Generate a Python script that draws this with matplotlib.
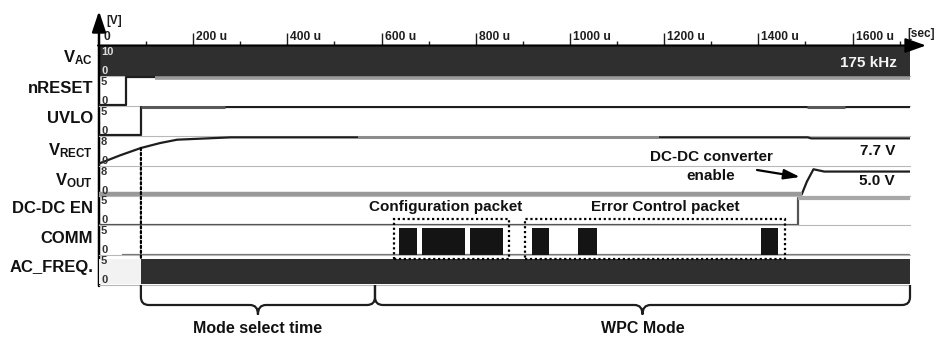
import numpy as np
import matplotlib
matplotlib.use('Agg')
import matplotlib.pyplot as plt
from matplotlib.patches import Rectangle, ConnectionPatch, PathPatch
from matplotlib.path import Path

plt.rcParams['font.family'] = ['Liberation Sans', 'DejaVu Sans']
plt.rcParams['font.weight'] = 'bold'
plt.rcParams['mathtext.fontset'] = 'custom'
plt.rcParams['mathtext.rm'] = 'Liberation Sans:bold'
plt.rcParams['mathtext.bf'] = 'Liberation Sans:bold'
plt.rcParams['mathtext.it'] = 'Liberation Sans:bold'

# ---- data (time in microseconds, values in volts) ----
T_END = 1722
channels = [r'V$_{\mathrm{AC}}$', 'nRESET', 'UVLO', r'V$_{\mathrm{RECT}}$',
            r'V$_{\mathrm{OUT}}$', 'DC-DC EN', 'COMM', 'AC_FREQ.']
scale_top = ['10', '5', '5', '8', '8', '5', '5', '5']
scale_bot = ['0', '0', '0', '0', '0', '0', '0', '0']

time_major = [0, 200, 400, 600, 800, 1000, 1200, 1400, 1600]
time_minor = [100, 300, 500, 700, 900, 1100, 1300, 1500, 1700]
time_labels = ['0', '200 u', '400 u', '600 u', '800 u', '1000 u', '1200 u', '1400 u', '1600 u']

vac_span = (0, 1722)
vac_level = 10

nreset_t = [0, 57, 57, 1722]
nreset_v = [0, 0, 5, 5]
nreset_gray = [(119, 1722)]

uvlo_t = [0, 89, 89, 1722]
uvlo_v = [0, 0, 5, 5]
uvlo_gray = [(89, 267), (1503, 1584)]

vrect_t = [0, 45, 89, 130, 166, 214, 280, 1505, 1512, 1722]
vrect_v = [0.1, 2.6, 4.8, 6.3, 7.3, 7.6, 8.0, 8.0, 7.7, 7.7]
vrect_gray = [(550, 1190)]

vout_t = [0, 1492, 1503, 1517, 1540, 1722]
vout_v = [0, 0, 2.8, 5.5, 5.0, 5.0]
vout_gray = [(0, 1492)]

dcdc_t = [0, 1484, 1484, 1722]
dcdc_v = [0, 0, 5, 5]
dcdc_gray = [(1484, 1722)]

comm_low = (50, 1722)
comm_start = [637, 686, 788, 919, 1017, 1405]
comm_end = [675, 777, 858, 955, 1057, 1441]

acfreq_span = (89, 1722)
acfreq_level = 5

packets = ['Configuration packet', 'Error Control packet']
packet_start = [626, 904]
packet_end = [870, 1456]
packet_label_t = [735, 1202]

modes = ['Mode select time', 'WPC Mode']
mode_start = [89, 586]
mode_end = [586, 1722]

# ---- layout ----
W, H = 936, 338
X0, X1 = 99, 910
ROW_TOP, ROW_H = 46, 29.9
ylims = [(0, 10), (-0.2, 5.2), (-0.2, 5.2), (-0.5, 8.5),
         (-0.22, 6.3), (-0.1, 5.5), (-0.1, 5.4), (-0.2, 5.8)]
label_base = [62, 93, 123, 155, 185, 213, 243, 272]
DARK = '#1e1e1e'
BAND = '#2f2f2f'
GRAY = '#8c8c8c'


def fx(x):
    return x / W


def fy(y):
    return 1 - y / H


def fp(x, y):
    return (x, H - y)


fig = plt.figure(figsize=(W / 100, H / 100), dpi=100)
fig.patch.set_facecolor('white')

axes = []
for i in range(8):
    ax = fig.add_axes([fx(X0), fy(ROW_TOP + (i + 1) * ROW_H), (X1 - X0) / W, ROW_H / H])
    ax.set_xlim(0, T_END)
    ax.set_ylim(*ylims[i])
    ax.patch.set_visible(False)
    for s in ax.spines.values():
        s.set_visible(False)
    ax.set_xticks([])
    ax.set_yticks([])
    ax.plot([0, 1], [0, 0], transform=ax.transAxes, color='#b8b8b8', lw=0.8, clip_on=False, zorder=0)
    axes.append(ax)

ax_vac, ax_nr, ax_uv, ax_vr, ax_vo, ax_en, ax_cm, ax_ac = axes
ax_cm.set_zorder(5)


def gray_over(ax, t, v, spans, color=GRAY, lw=2.4):
    for a, b in spans:
        ax.plot([a, b], np.interp([a, b], t, v), color=color, lw=lw, solid_capstyle='butt', zorder=3)


# VAC band
ax_vac.fill_between(vac_span, 0, vac_level, color=BAND, lw=0)

# nRESET / UVLO
ax_nr.plot(nreset_t, nreset_v, color=DARK, lw=1.6)
gray_over(ax_nr, nreset_t, [0, 0, 4.85, 4.85], nreset_gray, color='#9a9a9a', lw=2.6)
ax_uv.plot(uvlo_t, uvlo_v, color=DARK, lw=1.6)
gray_over(ax_uv, uvlo_t, uvlo_v, uvlo_gray, color='#5a5a5a', lw=2.2)

# VRECT
ax_vr.plot(vrect_t, vrect_v, color=DARK, lw=1.6)
gray_over(ax_vr, vrect_t, vrect_v, vrect_gray, lw=2.8)

# VOUT
ax_vo.plot(vout_t, vout_v, color=DARK, lw=1.6)
gray_over(ax_vo, vout_t, vout_v, vout_gray, color='#999999', lw=3.2)

# DC-DC EN
ax_en.plot(dcdc_t, dcdc_v, color='#555555', lw=1.6)
gray_over(ax_en, dcdc_t, dcdc_v, dcdc_gray, color='#a8a8a8', lw=3.0)

# COMM
ax_cm.plot(comm_low, [0, 0], color='#777777', lw=1.6)
ax_cm.bar(comm_start, 5, width=np.array(comm_end) - np.array(comm_start),
          align='edge', color='#141414', lw=0, zorder=3)
for a, b in zip(packet_start, packet_end):
    ax_cm.add_patch(Rectangle((a, -0.8), b - a, 7.3, fill=False, ls=(0, (1, 1.2)),
                              lw=1.6, ec='black', clip_on=False, zorder=6))

# AC_FREQ band
ax_ac.fill_between([0, acfreq_span[0]], 0, acfreq_level, color='#f2f2f2', lw=0)
ax_ac.fill_between(acfreq_span, 0, acfreq_level, color=BAND, lw=0)

# dotted marker at UVLO rising edge
con = ConnectionPatch(xyA=(uvlo_t[1], np.interp(uvlo_t[1], vrect_t, vrect_v)), coordsA=ax_vr.transData,
                      xyB=(uvlo_t[1], acfreq_level), coordsB=ax_ac.transData,
                      ls=(0, (1, 1.2)), lw=1.6, color='black', zorder=7)
fig.add_artist(con)

# top time axis
ax_vac.xaxis.set_ticks_position('top')
ax_vac.set_xticks(time_major[1:])
ax_vac.set_xticks(time_minor, minor=True)
ax_vac.tick_params(axis='x', which='major', direction='out', length=9.4, width=1.0,
                   color=DARK, labeltop=False, labelbottom=False)
ax_vac.tick_params(axis='x', which='minor', direction='out', length=3.6, width=1.0,
                   color=DARK)
for t, lab in zip(time_major, time_labels):
    ax_vac.annotate(lab, xy=(t, 1), xycoords=('data', 'axes fraction'),
                    xytext=(4 if t == 0 else 3, 6), textcoords='offset pixels',
                    ha='left', va='baseline', fontsize=8.7, color=DARK)

# axis arrows
ax_vac.annotate('', xy=fp(926, 45.5), xytext=fp(X0 - 1, 45.5), xycoords='figure pixels',
                arrowprops=dict(arrowstyle='-|>,head_length=0.9,head_width=0.32',
                                color='black', lw=1.5, mutation_scale=14, shrinkA=0, shrinkB=0))
ax_vac.annotate('', xy=fp(X0, 11), xytext=fp(X0, 286), xycoords='figure pixels',
                arrowprops=dict(arrowstyle='-|>,head_length=0.9,head_width=0.3',
                                color='black', lw=1.8, mutation_scale=14, shrinkA=0, shrinkB=0))
fig.text(fx(106), fy(24), '[V]', fontsize=8.5, color=DARK, ha='left', va='baseline')
fig.text(fx(907), fy(37), '[sec]', fontsize=8.5, color=DARK, ha='left', va='baseline')

# channel names and scale labels
for i, ax in enumerate(axes):
    fig.text(fx(93), fy(label_base[i]), channels[i], fontsize=12, color='#111111',
             ha='right', va='baseline')
    col = '#dddddd' if i == 0 else '#333333'
    ax.annotate(scale_top[i], xy=(0, 1), xycoords='axes fraction', xytext=(2, -1),
                textcoords='offset pixels', ha='left', va='top', fontsize=8, color=col)
    ax.annotate(scale_bot[i], xy=(0, 0), xycoords='axes fraction', xytext=(2, 0),
                textcoords='offset pixels', ha='left', va='bottom', fontsize=8, color=col)

# annotations
fig.text(fx(897), fy(67), '175 kHz', fontsize=11, color='#f4f4f4', ha='right', va='baseline')
fig.text(fx(895), fy(155), '7.7 V', fontsize=11, color='#111111', ha='right', va='baseline')
fig.text(fx(895), fy(185), '5.0 V', fontsize=11, color='#111111', ha='right', va='baseline')
fig.text(fx(711), fy(161), 'DC-DC converter', fontsize=11, color='#111111', ha='center', va='baseline')
fig.text(fx(711), fy(180), 'enable', fontsize=11, color='#111111', ha='center', va='baseline')
ax_vo.annotate('', xy=fp(800, 177), xytext=fp(757, 170), xycoords='figure pixels',
               arrowprops=dict(arrowstyle='-|>,head_length=0.8,head_width=0.25', color='black',
                               lw=1.6, mutation_scale=12, shrinkA=0, shrinkB=0))
for name, t in zip(packets, packet_label_t):
    ax_en.annotate(name, xy=(t, 0), xycoords=('data', 'axes fraction'),
                   xytext=(0, 14), textcoords='offset pixels',
                   ha='center', va='baseline', fontsize=11, color='#111111')

# braces for the operating modes
ax_b = fig.add_axes([fx(X0), 0, (X1 - X0) / W, (H - 285) / H])
ax_b.set_xlim(0, T_END)
ax_b.set_ylim(H - 285, 0)
ax_b.axis('off')
ax_b.patch.set_visible(False)
px_t = T_END / (X1 - X0)


def brace(ax, a, b, y1=20, tip=29.5, r=8):
    rx = r * px_t
    m = (a + b) / 2
    verts = [(a, 0), (a, y1 - r), (a, y1), (a + rx, y1), (m - rx, y1), (m, y1), (m, tip),
             (m, y1), (m + rx, y1), (b - rx, y1), (b, y1), (b, y1 - r), (b, 0)]
    codes = [Path.MOVETO, Path.LINETO, Path.CURVE3, Path.CURVE3, Path.LINETO, Path.CURVE3, Path.CURVE3,
             Path.CURVE3, Path.CURVE3, Path.LINETO, Path.CURVE3, Path.CURVE3, Path.LINETO]
    ax.add_patch(PathPatch(Path(verts, codes), fill=False, lw=1.6, ec=DARK, clip_on=False))
    return m


for name, a, b in zip(modes, mode_start, mode_end):
    m = brace(ax_b, a, b)
    ax_b.text(m, 48, name, ha='center', va='baseline', fontsize=11.5, color='#111111')

fig.savefig('out.png', dpi=100, facecolor='white')
